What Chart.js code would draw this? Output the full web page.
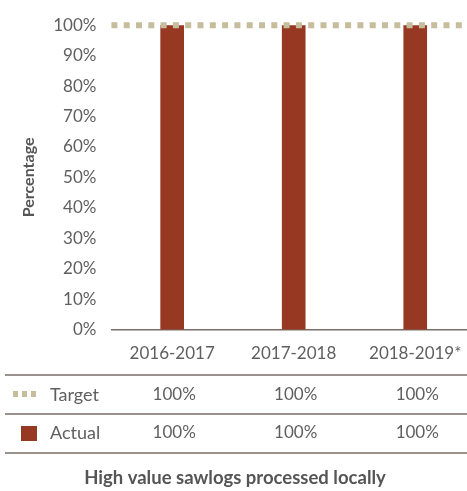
<!DOCTYPE html>
<html>
<head>
<meta charset="utf-8">
<script src="https://cdn.jsdelivr.net/npm/chart.js@4"></script>
<style>
  html, body { margin: 0; padding: 0; overflow: hidden; background: #fff; }
  #wrap { width: 476px; height: 491px; }
</style>
</head>
<body>
<div id="wrap"><canvas id="sawlogChart" width="476" height="491"></canvas></div>
<script>
const categories = ['2016-2017', '2017-2018', '2018-2019*'];
const targetValues = [100, 100, 100];
const actualValues = [100, 100, 100];
const yTicks = [0, 10, 20, 30, 40, 50, 60, 70, 80, 90, 100];

const FONT = 'Lato, "Open Sans", sans-serif';
const BAR_COLOR = '#963822';
const TARGET_COLOR = '#c6bd9c';
const RULE_COLOR = '#7a6e68';
const TEXT_COLOR = '#5f5f5f';

// dashed target line across the plot + table rows underneath
const tablePlugin = {
  id: 'tablePlugin',
  afterDatasetsDraw(chart) {
    const { ctx, chartArea, scales } = chart;
    const y = scales.y.getPixelForValue(targetValues[0]);
    ctx.save();
    ctx.strokeStyle = TARGET_COLOR;
    ctx.lineWidth = 6;
    ctx.setLineDash([6, 6.3]);
    ctx.beginPath();
    ctx.moveTo(chartArea.left, y);
    ctx.lineTo(chartArea.right, y);
    ctx.stroke();
    ctx.restore();
  },
  afterDraw(chart) {
    const { ctx, scales } = chart;
    const x = scales.x;
    ctx.save();
    // horizontal rules
    ctx.strokeStyle = RULE_COLOR;
    ctx.lineWidth = 1.5;
    [375, 414, 453].forEach(ry => {
      ctx.beginPath();
      ctx.moveTo(5, ry);
      ctx.lineTo(476, ry);
      ctx.stroke();
    });

    // legend keys
    ctx.strokeStyle = TARGET_COLOR;
    ctx.lineWidth = 6;
    ctx.setLineDash([5, 4]);
    ctx.beginPath();
    ctx.moveTo(13, 394);
    ctx.lineTo(38, 394);
    ctx.stroke();
    ctx.setLineDash([]);
    ctx.fillStyle = BAR_COLOR;
    ctx.fillRect(21, 426, 16, 15);

    ctx.fillStyle = TEXT_COLOR;
    ctx.font = '18px ' + FONT;
    ctx.textBaseline = 'middle';
    ctx.textAlign = 'left';
    ctx.fillText('Target', 50, 395);
    ctx.fillText('Actual', 50, 433);

    ctx.font = '17px ' + FONT;
    ctx.textAlign = 'center';
    categories.forEach((c, i) => {
      const cx = x.getPixelForValue(i) + 2;
      ctx.fillText(targetValues[i] + '%', cx, 395);
      ctx.fillText(actualValues[i] + '%', cx, 433);
    });

    ctx.font = 'bold 18.5px ' + FONT;
    ctx.fillStyle = '#555';
    ctx.fillText('High value sawlogs processed locally', 235, 478);
    ctx.restore();
  }
};

new Chart(document.getElementById('sawlogChart'), {
  type: 'bar',
  data: {
    labels: categories,
    datasets: [{
      label: 'Actual',
      data: actualValues,
      backgroundColor: BAR_COLOR,
      barThickness: 23
    }]
  },
  options: {
    responsive: false,
    animation: false,
    layout: { padding: { top: -3, bottom: 113, left: 19, right: 0 } },
    plugins: {
      legend: { display: false },
      tooltip: { enabled: false }
    },
    scales: {
      x: {
        grid: { display: false, drawTicks: false },
        border: { display: true, color: RULE_COLOR, width: 1.5 },
        ticks: {
          color: TEXT_COLOR,
          font: { family: FONT, size: 17 },
          padding: 14
        }
      },
      y: {
        min: 0,
        max: 100,
        afterBuildTicks(axis) {
          axis.ticks = yTicks.map(v => ({ value: v }));
        },
        grid: { display: false, drawTicks: false },
        border: { display: false },
        ticks: {
          color: TEXT_COLOR,
          font: { family: FONT, size: 17 },
          padding: 15,
          callback: v => v + '%'
        },
        title: {
          display: true,
          text: 'Percentage',
          color: '#555',
          font: { family: FONT, size: 16, weight: 'bold' },
          padding: { top: 0, bottom: 0 }
        }
      }
    }
  },
  plugins: [tablePlugin]
});
</script>
</body>
</html>
